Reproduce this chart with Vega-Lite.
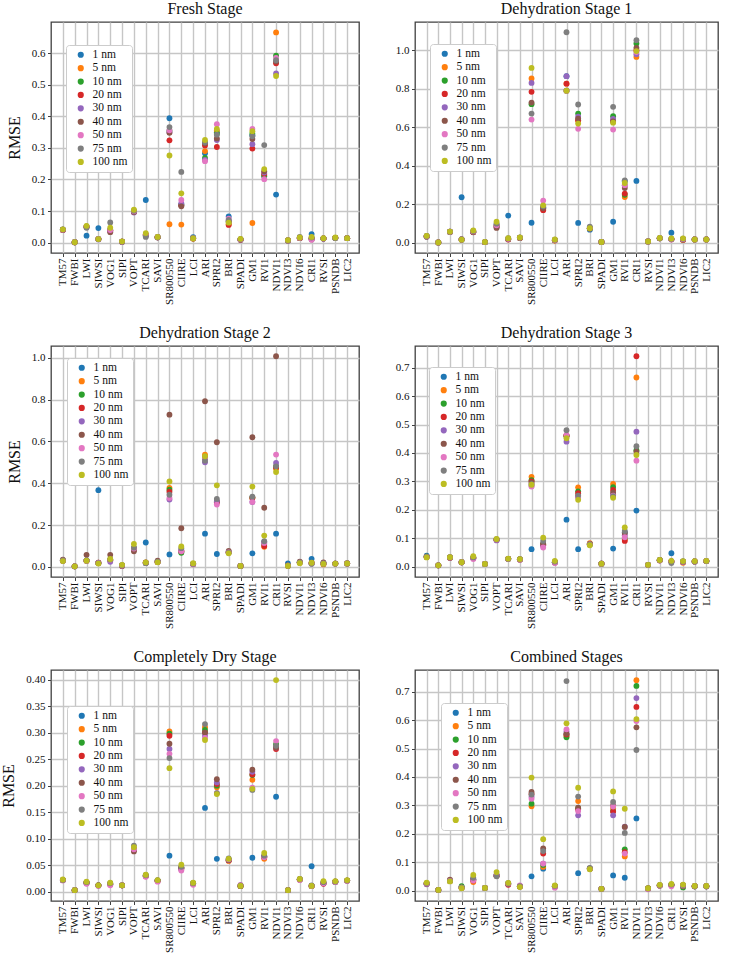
{
"$schema": "https://vega.github.io/schema/vega-lite/v6.json",
"padding": {"left": 0, "top": 0, "right": 4, "bottom": 0},
"config": {
 "font": "Liberation Serif, DejaVu Serif, serif",
 "view": {"stroke": "#404040", "strokeWidth": 1.3},
 "point": {"filled": true, "opacity": 1, "size": 34},
 "axis": {"grid": true, "gridColor": "#c6c6c6", "gridWidth": 1.4, "domain": false, "ticks": true, "tickColor": "#404040", "tickSize": 3.5, "labelFont": "Liberation Serif, DejaVu Serif, serif", "labelFontSize": 11, "labelColor": "#111", "titleFont": "Liberation Serif, DejaVu Serif, serif", "titleFontSize": 16, "titleFontWeight": "normal", "titleColor": "#111", "labelPadding": 2.5},
 "axisX": {"labelAngle": -90, "labelBaseline": "middle", "labelAlign": "right", "labelPadding": 1.5},
 "axisY": {"titlePadding": 9},
 "title": {"font": "Liberation Serif, DejaVu Serif, serif", "fontSize": 16, "fontWeight": "normal", "color": "#111", "offset": 5},
 "legend": {"orient": "none", "fillColor": "white", "strokeColor": "#cccccc", "cornerRadius": 3, "padding": 4, "symbolType": "circle", "symbolSize": 38, "symbolStrokeWidth": 0, "labelFont": "Liberation Serif, DejaVu Serif, serif", "labelFontSize": 11.5, "labelColor": "#111", "rowPadding": 0.4, "labelOffset": 6, "symbolOffset": 5}
},
"datasets": {
"fresh": [
{"c":"TM57","s":1,"v":0.041},{"c":"TM57","s":5,"v":0.040},{"c":"TM57","s":10,"v":0.041},{"c":"TM57","s":20,"v":0.040},{"c":"TM57","s":30,"v":0.041},{"c":"TM57","s":40,"v":0.040},{"c":"TM57","s":50,"v":0.041},{"c":"TM57","s":75,"v":0.042},{"c":"TM57","s":100,"v":0.042},
{"c":"FWBI","s":1,"v":0.001},{"c":"FWBI","s":5,"v":0.001},{"c":"FWBI","s":10,"v":0.001},{"c":"FWBI","s":20,"v":0.001},{"c":"FWBI","s":30,"v":0.001},{"c":"FWBI","s":40,"v":0.001},{"c":"FWBI","s":50,"v":0.001},{"c":"FWBI","s":75,"v":0.001},{"c":"FWBI","s":100,"v":0.001},
{"c":"LWI","s":1,"v":0.022},{"c":"LWI","s":5,"v":0.050},{"c":"LWI","s":10,"v":0.051},{"c":"LWI","s":20,"v":0.050},{"c":"LWI","s":30,"v":0.049},{"c":"LWI","s":40,"v":0.050},{"c":"LWI","s":50,"v":0.051},{"c":"LWI","s":75,"v":0.047},{"c":"LWI","s":100,"v":0.053},
{"c":"SIWSI","s":1,"v":0.046},{"c":"SIWSI","s":5,"v":0.011},{"c":"SIWSI","s":10,"v":0.012},{"c":"SIWSI","s":20,"v":0.011},{"c":"SIWSI","s":30,"v":0.010},{"c":"SIWSI","s":40,"v":0.011},{"c":"SIWSI","s":50,"v":0.012},{"c":"SIWSI","s":75,"v":0.011},{"c":"SIWSI","s":100,"v":0.011},
{"c":"VOG1","s":1,"v":0.040},{"c":"VOG1","s":5,"v":0.038},{"c":"VOG1","s":10,"v":0.040},{"c":"VOG1","s":20,"v":0.038},{"c":"VOG1","s":30,"v":0.036},{"c":"VOG1","s":40,"v":0.033},{"c":"VOG1","s":50,"v":0.040},{"c":"VOG1","s":75,"v":0.064},{"c":"VOG1","s":100,"v":0.047},
{"c":"SIPI","s":1,"v":0.003},{"c":"SIPI","s":5,"v":0.003},{"c":"SIPI","s":10,"v":0.003},{"c":"SIPI","s":20,"v":0.003},{"c":"SIPI","s":30,"v":0.003},{"c":"SIPI","s":40,"v":0.003},{"c":"SIPI","s":50,"v":0.003},{"c":"SIPI","s":75,"v":0.003},{"c":"SIPI","s":100,"v":0.004},
{"c":"VOPT","s":1,"v":0.100},{"c":"VOPT","s":5,"v":0.098},{"c":"VOPT","s":10,"v":0.098},{"c":"VOPT","s":20,"v":0.097},{"c":"VOPT","s":30,"v":0.095},{"c":"VOPT","s":40,"v":0.097},{"c":"VOPT","s":50,"v":0.099},{"c":"VOPT","s":75,"v":0.101},{"c":"VOPT","s":100,"v":0.104},
{"c":"TCARI","s":1,"v":0.135},{"c":"TCARI","s":5,"v":0.025},{"c":"TCARI","s":10,"v":0.022},{"c":"TCARI","s":20,"v":0.024},{"c":"TCARI","s":30,"v":0.022},{"c":"TCARI","s":40,"v":0.025},{"c":"TCARI","s":50,"v":0.026},{"c":"TCARI","s":75,"v":0.018},{"c":"TCARI","s":100,"v":0.030},
{"c":"SAVI","s":1,"v":0.017},{"c":"SAVI","s":5,"v":0.017},{"c":"SAVI","s":10,"v":0.017},{"c":"SAVI","s":20,"v":0.017},{"c":"SAVI","s":30,"v":0.017},{"c":"SAVI","s":40,"v":0.017},{"c":"SAVI","s":50,"v":0.017},{"c":"SAVI","s":75,"v":0.017},{"c":"SAVI","s":100,"v":0.018},
{"c":"SR800550","s":1,"v":0.394},{"c":"SR800550","s":5,"v":0.058},{"c":"SR800550","s":10,"v":0.355},{"c":"SR800550","s":20,"v":0.324},{"c":"SR800550","s":30,"v":0.350},{"c":"SR800550","s":40,"v":0.348},{"c":"SR800550","s":50,"v":0.356},{"c":"SR800550","s":75,"v":0.366},{"c":"SR800550","s":100,"v":0.276},
{"c":"CIIRE","s":1,"v":0.120},{"c":"CIIRE","s":5,"v":0.057},{"c":"CIIRE","s":10,"v":0.120},{"c":"CIIRE","s":20,"v":0.118},{"c":"CIIRE","s":30,"v":0.125},{"c":"CIIRE","s":40,"v":0.115},{"c":"CIIRE","s":50,"v":0.135},{"c":"CIIRE","s":75,"v":0.224},{"c":"CIIRE","s":100,"v":0.156},
{"c":"LCI","s":1,"v":0.017},{"c":"LCI","s":5,"v":0.013},{"c":"LCI","s":10,"v":0.014},{"c":"LCI","s":20,"v":0.013},{"c":"LCI","s":30,"v":0.014},{"c":"LCI","s":40,"v":0.013},{"c":"LCI","s":50,"v":0.014},{"c":"LCI","s":75,"v":0.015},{"c":"LCI","s":100,"v":0.013},
{"c":"ARI","s":1,"v":0.283},{"c":"ARI","s":5,"v":0.290},{"c":"ARI","s":10,"v":0.268},{"c":"ARI","s":20,"v":0.308},{"c":"ARI","s":30,"v":0.262},{"c":"ARI","s":40,"v":0.315},{"c":"ARI","s":50,"v":0.258},{"c":"ARI","s":75,"v":0.318},{"c":"ARI","s":100,"v":0.325},
{"c":"SPRI2","s":1,"v":0.350},{"c":"SPRI2","s":5,"v":0.355},{"c":"SPRI2","s":10,"v":0.345},{"c":"SPRI2","s":20,"v":0.303},{"c":"SPRI2","s":30,"v":0.325},{"c":"SPRI2","s":40,"v":0.330},{"c":"SPRI2","s":50,"v":0.375},{"c":"SPRI2","s":75,"v":0.342},{"c":"SPRI2","s":100,"v":0.360},
{"c":"BRI","s":1,"v":0.083},{"c":"BRI","s":5,"v":0.058},{"c":"BRI","s":10,"v":0.065},{"c":"BRI","s":20,"v":0.056},{"c":"BRI","s":30,"v":0.070},{"c":"BRI","s":40,"v":0.068},{"c":"BRI","s":50,"v":0.076},{"c":"BRI","s":75,"v":0.072},{"c":"BRI","s":100,"v":0.063},
{"c":"SPADI","s":1,"v":0.010},{"c":"SPADI","s":5,"v":0.010},{"c":"SPADI","s":10,"v":0.010},{"c":"SPADI","s":20,"v":0.010},{"c":"SPADI","s":30,"v":0.009},{"c":"SPADI","s":40,"v":0.008},{"c":"SPADI","s":50,"v":0.010},{"c":"SPADI","s":75,"v":0.011},{"c":"SPADI","s":100,"v":0.012},
{"c":"GM1","s":1,"v":0.340},{"c":"GM1","s":5,"v":0.062},{"c":"GM1","s":10,"v":0.345},{"c":"GM1","s":20,"v":0.298},{"c":"GM1","s":30,"v":0.312},{"c":"GM1","s":40,"v":0.328},{"c":"GM1","s":50,"v":0.360},{"c":"GM1","s":75,"v":0.337},{"c":"GM1","s":100,"v":0.353},
{"c":"RVI1","s":1,"v":0.210},{"c":"RVI1","s":5,"v":0.215},{"c":"RVI1","s":10,"v":0.212},{"c":"RVI1","s":20,"v":0.218},{"c":"RVI1","s":30,"v":0.222},{"c":"RVI1","s":40,"v":0.226},{"c":"RVI1","s":50,"v":0.201},{"c":"RVI1","s":75,"v":0.309},{"c":"RVI1","s":100,"v":0.233},
{"c":"NDVI1","s":1,"v":0.152},{"c":"NDVI1","s":5,"v":0.666},{"c":"NDVI1","s":10,"v":0.592},{"c":"NDVI1","s":20,"v":0.568},{"c":"NDVI1","s":30,"v":0.536},{"c":"NDVI1","s":40,"v":0.574},{"c":"NDVI1","s":50,"v":0.585},{"c":"NDVI1","s":75,"v":0.578},{"c":"NDVI1","s":100,"v":0.528},
{"c":"NDVI3","s":1,"v":0.007},{"c":"NDVI3","s":5,"v":0.007},{"c":"NDVI3","s":10,"v":0.007},{"c":"NDVI3","s":20,"v":0.007},{"c":"NDVI3","s":30,"v":0.007},{"c":"NDVI3","s":40,"v":0.007},{"c":"NDVI3","s":50,"v":0.007},{"c":"NDVI3","s":75,"v":0.007},{"c":"NDVI3","s":100,"v":0.008},
{"c":"NDVI6","s":1,"v":0.015},{"c":"NDVI6","s":5,"v":0.015},{"c":"NDVI6","s":10,"v":0.015},{"c":"NDVI6","s":20,"v":0.014},{"c":"NDVI6","s":30,"v":0.015},{"c":"NDVI6","s":40,"v":0.014},{"c":"NDVI6","s":50,"v":0.015},{"c":"NDVI6","s":75,"v":0.018},{"c":"NDVI6","s":100,"v":0.016},
{"c":"CRI1","s":1,"v":0.027},{"c":"CRI1","s":5,"v":0.013},{"c":"CRI1","s":10,"v":0.014},{"c":"CRI1","s":20,"v":0.012},{"c":"CRI1","s":30,"v":0.011},{"c":"CRI1","s":40,"v":0.010},{"c":"CRI1","s":50,"v":0.009},{"c":"CRI1","s":75,"v":0.016},{"c":"CRI1","s":100,"v":0.018},
{"c":"RVSI","s":1,"v":0.013},{"c":"RVSI","s":5,"v":0.013},{"c":"RVSI","s":10,"v":0.013},{"c":"RVSI","s":20,"v":0.013},{"c":"RVSI","s":30,"v":0.013},{"c":"RVSI","s":40,"v":0.013},{"c":"RVSI","s":50,"v":0.013},{"c":"RVSI","s":75,"v":0.013},{"c":"RVSI","s":100,"v":0.014},
{"c":"PSNDB","s":1,"v":0.015},{"c":"PSNDB","s":5,"v":0.015},{"c":"PSNDB","s":10,"v":0.015},{"c":"PSNDB","s":20,"v":0.015},{"c":"PSNDB","s":30,"v":0.015},{"c":"PSNDB","s":40,"v":0.015},{"c":"PSNDB","s":50,"v":0.015},{"c":"PSNDB","s":75,"v":0.014},{"c":"PSNDB","s":100,"v":0.016},
{"c":"LIC2","s":1,"v":0.014},{"c":"LIC2","s":5,"v":0.014},{"c":"LIC2","s":10,"v":0.014},{"c":"LIC2","s":20,"v":0.014},{"c":"LIC2","s":30,"v":0.014},{"c":"LIC2","s":40,"v":0.014},{"c":"LIC2","s":50,"v":0.014},{"c":"LIC2","s":75,"v":0.014},{"c":"LIC2","s":100,"v":0.014}
],
"d1": [
{"c":"TM57","s":1,"v":0.032},{"c":"TM57","s":5,"v":0.034},{"c":"TM57","s":10,"v":0.035},{"c":"TM57","s":20,"v":0.034},{"c":"TM57","s":30,"v":0.035},{"c":"TM57","s":40,"v":0.034},{"c":"TM57","s":50,"v":0.035},{"c":"TM57","s":75,"v":0.036},{"c":"TM57","s":100,"v":0.037},
{"c":"FWBI","s":1,"v":0.003},{"c":"FWBI","s":5,"v":0.003},{"c":"FWBI","s":10,"v":0.003},{"c":"FWBI","s":20,"v":0.003},{"c":"FWBI","s":30,"v":0.003},{"c":"FWBI","s":40,"v":0.003},{"c":"FWBI","s":50,"v":0.003},{"c":"FWBI","s":75,"v":0.003},{"c":"FWBI","s":100,"v":0.003},
{"c":"LWI","s":1,"v":0.057},{"c":"LWI","s":5,"v":0.058},{"c":"LWI","s":10,"v":0.058},{"c":"LWI","s":20,"v":0.057},{"c":"LWI","s":30,"v":0.058},{"c":"LWI","s":40,"v":0.057},{"c":"LWI","s":50,"v":0.058},{"c":"LWI","s":75,"v":0.058},{"c":"LWI","s":100,"v":0.059},
{"c":"SIWSI","s":1,"v":0.237},{"c":"SIWSI","s":5,"v":0.018},{"c":"SIWSI","s":10,"v":0.017},{"c":"SIWSI","s":20,"v":0.018},{"c":"SIWSI","s":30,"v":0.017},{"c":"SIWSI","s":40,"v":0.018},{"c":"SIWSI","s":50,"v":0.019},{"c":"SIWSI","s":75,"v":0.020},{"c":"SIWSI","s":100,"v":0.017},
{"c":"VOG1","s":1,"v":0.058},{"c":"VOG1","s":5,"v":0.056},{"c":"VOG1","s":10,"v":0.058},{"c":"VOG1","s":20,"v":0.057},{"c":"VOG1","s":30,"v":0.058},{"c":"VOG1","s":40,"v":0.055},{"c":"VOG1","s":50,"v":0.060},{"c":"VOG1","s":75,"v":0.062},{"c":"VOG1","s":100,"v":0.065},
{"c":"SIPI","s":1,"v":0.004},{"c":"SIPI","s":5,"v":0.004},{"c":"SIPI","s":10,"v":0.004},{"c":"SIPI","s":20,"v":0.004},{"c":"SIPI","s":30,"v":0.004},{"c":"SIPI","s":40,"v":0.004},{"c":"SIPI","s":50,"v":0.004},{"c":"SIPI","s":75,"v":0.005},{"c":"SIPI","s":100,"v":0.005},
{"c":"VOPT","s":1,"v":0.095},{"c":"VOPT","s":5,"v":0.090},{"c":"VOPT","s":10,"v":0.088},{"c":"VOPT","s":20,"v":0.085},{"c":"VOPT","s":30,"v":0.082},{"c":"VOPT","s":40,"v":0.078},{"c":"VOPT","s":50,"v":0.092},{"c":"VOPT","s":75,"v":0.100},{"c":"VOPT","s":100,"v":0.110},
{"c":"TCARI","s":1,"v":0.142},{"c":"TCARI","s":5,"v":0.020},{"c":"TCARI","s":10,"v":0.020},{"c":"TCARI","s":20,"v":0.018},{"c":"TCARI","s":30,"v":0.020},{"c":"TCARI","s":40,"v":0.019},{"c":"TCARI","s":50,"v":0.022},{"c":"TCARI","s":75,"v":0.025},{"c":"TCARI","s":100,"v":0.025},
{"c":"SAVI","s":1,"v":0.027},{"c":"SAVI","s":5,"v":0.026},{"c":"SAVI","s":10,"v":0.027},{"c":"SAVI","s":20,"v":0.026},{"c":"SAVI","s":30,"v":0.027},{"c":"SAVI","s":40,"v":0.026},{"c":"SAVI","s":50,"v":0.028},{"c":"SAVI","s":75,"v":0.028},{"c":"SAVI","s":100,"v":0.029},
{"c":"SR800550","s":1,"v":0.105},{"c":"SR800550","s":5,"v":0.853},{"c":"SR800550","s":10,"v":0.720},{"c":"SR800550","s":20,"v":0.784},{"c":"SR800550","s":30,"v":0.830},{"c":"SR800550","s":40,"v":0.728},{"c":"SR800550","s":50,"v":0.640},{"c":"SR800550","s":75,"v":0.671},{"c":"SR800550","s":100,"v":0.908},
{"c":"CIIRE","s":1,"v":0.185},{"c":"CIIRE","s":5,"v":0.175},{"c":"CIIRE","s":10,"v":0.180},{"c":"CIIRE","s":20,"v":0.170},{"c":"CIIRE","s":30,"v":0.185},{"c":"CIIRE","s":40,"v":0.180},{"c":"CIIRE","s":50,"v":0.220},{"c":"CIIRE","s":75,"v":0.190},{"c":"CIIRE","s":100,"v":0.195},
{"c":"LCI","s":1,"v":0.015},{"c":"LCI","s":5,"v":0.013},{"c":"LCI","s":10,"v":0.015},{"c":"LCI","s":20,"v":0.014},{"c":"LCI","s":30,"v":0.015},{"c":"LCI","s":40,"v":0.014},{"c":"LCI","s":50,"v":0.016},{"c":"LCI","s":75,"v":0.017},{"c":"LCI","s":100,"v":0.018},
{"c":"ARI","s":1,"v":0.865},{"c":"ARI","s":5,"v":0.826},{"c":"ARI","s":10,"v":0.790},{"c":"ARI","s":20,"v":0.826},{"c":"ARI","s":30,"v":0.865},{"c":"ARI","s":40,"v":0.790},{"c":"ARI","s":50,"v":0.790},{"c":"ARI","s":75,"v":1.093},{"c":"ARI","s":100,"v":0.790},
{"c":"SPRI2","s":1,"v":0.104},{"c":"SPRI2","s":5,"v":0.635},{"c":"SPRI2","s":10,"v":0.671},{"c":"SPRI2","s":20,"v":0.637},{"c":"SPRI2","s":30,"v":0.655},{"c":"SPRI2","s":40,"v":0.645},{"c":"SPRI2","s":50,"v":0.592},{"c":"SPRI2","s":75,"v":0.718},{"c":"SPRI2","s":100,"v":0.619},
{"c":"BRI","s":1,"v":0.069},{"c":"BRI","s":5,"v":0.075},{"c":"BRI","s":10,"v":0.077},{"c":"BRI","s":20,"v":0.076},{"c":"BRI","s":30,"v":0.078},{"c":"BRI","s":40,"v":0.077},{"c":"BRI","s":50,"v":0.080},{"c":"BRI","s":75,"v":0.085},{"c":"BRI","s":100,"v":0.077},
{"c":"SPADI","s":1,"v":0.005},{"c":"SPADI","s":5,"v":0.005},{"c":"SPADI","s":10,"v":0.005},{"c":"SPADI","s":20,"v":0.005},{"c":"SPADI","s":30,"v":0.005},{"c":"SPADI","s":40,"v":0.005},{"c":"SPADI","s":50,"v":0.005},{"c":"SPADI","s":75,"v":0.005},{"c":"SPADI","s":100,"v":0.005},
{"c":"GM1","s":1,"v":0.110},{"c":"GM1","s":5,"v":0.630},{"c":"GM1","s":10,"v":0.657},{"c":"GM1","s":20,"v":0.635},{"c":"GM1","s":30,"v":0.643},{"c":"GM1","s":40,"v":0.630},{"c":"GM1","s":50,"v":0.588},{"c":"GM1","s":75,"v":0.706},{"c":"GM1","s":100,"v":0.624},
{"c":"RVI1","s":1,"v":0.320},{"c":"RVI1","s":5,"v":0.238},{"c":"RVI1","s":10,"v":0.250},{"c":"RVI1","s":20,"v":0.256},{"c":"RVI1","s":30,"v":0.300},{"c":"RVI1","s":40,"v":0.285},{"c":"RVI1","s":50,"v":0.300},{"c":"RVI1","s":75,"v":0.325},{"c":"RVI1","s":100,"v":0.311},
{"c":"CRI1","s":1,"v":0.322},{"c":"CRI1","s":5,"v":0.965},{"c":"CRI1","s":10,"v":1.035},{"c":"CRI1","s":20,"v":1.000},{"c":"CRI1","s":30,"v":0.979},{"c":"CRI1","s":40,"v":1.012},{"c":"CRI1","s":50,"v":0.990},{"c":"CRI1","s":75,"v":1.052},{"c":"CRI1","s":100,"v":0.995},
{"c":"RVSI","s":1,"v":0.008},{"c":"RVSI","s":5,"v":0.008},{"c":"RVSI","s":10,"v":0.008},{"c":"RVSI","s":20,"v":0.008},{"c":"RVSI","s":30,"v":0.008},{"c":"RVSI","s":40,"v":0.008},{"c":"RVSI","s":50,"v":0.008},{"c":"RVSI","s":75,"v":0.008},{"c":"RVSI","s":100,"v":0.008},
{"c":"NDVI1","s":1,"v":0.024},{"c":"NDVI1","s":5,"v":0.024},{"c":"NDVI1","s":10,"v":0.025},{"c":"NDVI1","s":20,"v":0.024},{"c":"NDVI1","s":30,"v":0.025},{"c":"NDVI1","s":40,"v":0.024},{"c":"NDVI1","s":50,"v":0.025},{"c":"NDVI1","s":75,"v":0.025},{"c":"NDVI1","s":100,"v":0.026},
{"c":"NDVI3","s":1,"v":0.053},{"c":"NDVI3","s":5,"v":0.020},{"c":"NDVI3","s":10,"v":0.020},{"c":"NDVI3","s":20,"v":0.019},{"c":"NDVI3","s":30,"v":0.020},{"c":"NDVI3","s":40,"v":0.019},{"c":"NDVI3","s":50,"v":0.018},{"c":"NDVI3","s":75,"v":0.021},{"c":"NDVI3","s":100,"v":0.023},
{"c":"NDVI6","s":1,"v":0.020},{"c":"NDVI6","s":5,"v":0.015},{"c":"NDVI6","s":10,"v":0.018},{"c":"NDVI6","s":20,"v":0.017},{"c":"NDVI6","s":30,"v":0.019},{"c":"NDVI6","s":40,"v":0.018},{"c":"NDVI6","s":50,"v":0.019},{"c":"NDVI6","s":75,"v":0.022},{"c":"NDVI6","s":100,"v":0.024},
{"c":"PSNDB","s":1,"v":0.018},{"c":"PSNDB","s":5,"v":0.018},{"c":"PSNDB","s":10,"v":0.018},{"c":"PSNDB","s":20,"v":0.018},{"c":"PSNDB","s":30,"v":0.018},{"c":"PSNDB","s":40,"v":0.018},{"c":"PSNDB","s":50,"v":0.018},{"c":"PSNDB","s":75,"v":0.018},{"c":"PSNDB","s":100,"v":0.018},
{"c":"LIC2","s":1,"v":0.018},{"c":"LIC2","s":5,"v":0.018},{"c":"LIC2","s":10,"v":0.018},{"c":"LIC2","s":20,"v":0.018},{"c":"LIC2","s":30,"v":0.018},{"c":"LIC2","s":40,"v":0.018},{"c":"LIC2","s":50,"v":0.018},{"c":"LIC2","s":75,"v":0.018},{"c":"LIC2","s":100,"v":0.018}
],
"d2": [
{"c":"TM57","s":1,"v":0.030},{"c":"TM57","s":5,"v":0.030},{"c":"TM57","s":10,"v":0.031},{"c":"TM57","s":20,"v":0.030},{"c":"TM57","s":30,"v":0.031},{"c":"TM57","s":40,"v":0.035},{"c":"TM57","s":50,"v":0.030},{"c":"TM57","s":75,"v":0.031},{"c":"TM57","s":100,"v":0.028},
{"c":"FWBI","s":1,"v":0.003},{"c":"FWBI","s":5,"v":0.003},{"c":"FWBI","s":10,"v":0.003},{"c":"FWBI","s":20,"v":0.003},{"c":"FWBI","s":30,"v":0.003},{"c":"FWBI","s":40,"v":0.003},{"c":"FWBI","s":50,"v":0.003},{"c":"FWBI","s":75,"v":0.003},{"c":"FWBI","s":100,"v":0.003},
{"c":"LWI","s":1,"v":0.030},{"c":"LWI","s":5,"v":0.030},{"c":"LWI","s":10,"v":0.031},{"c":"LWI","s":20,"v":0.030},{"c":"LWI","s":30,"v":0.031},{"c":"LWI","s":40,"v":0.058},{"c":"LWI","s":50,"v":0.030},{"c":"LWI","s":75,"v":0.031},{"c":"LWI","s":100,"v":0.030},
{"c":"SIWSI","s":1,"v":0.367},{"c":"SIWSI","s":5,"v":0.019},{"c":"SIWSI","s":10,"v":0.019},{"c":"SIWSI","s":20,"v":0.020},{"c":"SIWSI","s":30,"v":0.019},{"c":"SIWSI","s":40,"v":0.020},{"c":"SIWSI","s":50,"v":0.019},{"c":"SIWSI","s":75,"v":0.018},{"c":"SIWSI","s":100,"v":0.016},
{"c":"VOG1","s":1,"v":0.035},{"c":"VOG1","s":5,"v":0.033},{"c":"VOG1","s":10,"v":0.034},{"c":"VOG1","s":20,"v":0.032},{"c":"VOG1","s":30,"v":0.025},{"c":"VOG1","s":40,"v":0.058},{"c":"VOG1","s":50,"v":0.033},{"c":"VOG1","s":75,"v":0.035},{"c":"VOG1","s":100,"v":0.038},
{"c":"SIPI","s":1,"v":0.007},{"c":"SIPI","s":5,"v":0.006},{"c":"SIPI","s":10,"v":0.007},{"c":"SIPI","s":20,"v":0.006},{"c":"SIPI","s":30,"v":0.006},{"c":"SIPI","s":40,"v":0.004},{"c":"SIPI","s":50,"v":0.007},{"c":"SIPI","s":75,"v":0.008},{"c":"SIPI","s":100,"v":0.010},
{"c":"VOPT","s":1,"v":0.090},{"c":"VOPT","s":5,"v":0.088},{"c":"VOPT","s":10,"v":0.087},{"c":"VOPT","s":20,"v":0.085},{"c":"VOPT","s":30,"v":0.085},{"c":"VOPT","s":40,"v":0.075},{"c":"VOPT","s":50,"v":0.088},{"c":"VOPT","s":75,"v":0.092},{"c":"VOPT","s":100,"v":0.110},
{"c":"TCARI","s":1,"v":0.117},{"c":"TCARI","s":5,"v":0.020},{"c":"TCARI","s":10,"v":0.019},{"c":"TCARI","s":20,"v":0.020},{"c":"TCARI","s":30,"v":0.019},{"c":"TCARI","s":40,"v":0.022},{"c":"TCARI","s":50,"v":0.020},{"c":"TCARI","s":75,"v":0.018},{"c":"TCARI","s":100,"v":0.022},
{"c":"SAVI","s":1,"v":0.025},{"c":"SAVI","s":5,"v":0.024},{"c":"SAVI","s":10,"v":0.025},{"c":"SAVI","s":20,"v":0.024},{"c":"SAVI","s":30,"v":0.025},{"c":"SAVI","s":40,"v":0.030},{"c":"SAVI","s":50,"v":0.024},{"c":"SAVI","s":75,"v":0.025},{"c":"SAVI","s":100,"v":0.022},
{"c":"SR800550","s":1,"v":0.060},{"c":"SR800550","s":5,"v":0.378},{"c":"SR800550","s":10,"v":0.369},{"c":"SR800550","s":20,"v":0.360},{"c":"SR800550","s":30,"v":0.322},{"c":"SR800550","s":40,"v":0.728},{"c":"SR800550","s":50,"v":0.330},{"c":"SR800550","s":75,"v":0.345},{"c":"SR800550","s":100,"v":0.409},
{"c":"CIIRE","s":1,"v":0.072},{"c":"CIIRE","s":5,"v":0.075},{"c":"CIIRE","s":10,"v":0.068},{"c":"CIIRE","s":20,"v":0.075},{"c":"CIIRE","s":30,"v":0.080},{"c":"CIIRE","s":40,"v":0.185},{"c":"CIIRE","s":50,"v":0.075},{"c":"CIIRE","s":75,"v":0.090},{"c":"CIIRE","s":100,"v":0.098},
{"c":"LCI","s":1,"v":0.015},{"c":"LCI","s":5,"v":0.014},{"c":"LCI","s":10,"v":0.014},{"c":"LCI","s":20,"v":0.013},{"c":"LCI","s":30,"v":0.014},{"c":"LCI","s":40,"v":0.015},{"c":"LCI","s":50,"v":0.014},{"c":"LCI","s":75,"v":0.015},{"c":"LCI","s":100,"v":0.018},
{"c":"ARI","s":1,"v":0.159},{"c":"ARI","s":5,"v":0.537},{"c":"ARI","s":10,"v":0.520},{"c":"ARI","s":20,"v":0.522},{"c":"ARI","s":30,"v":0.500},{"c":"ARI","s":40,"v":0.792},{"c":"ARI","s":50,"v":0.520},{"c":"ARI","s":75,"v":0.508},{"c":"ARI","s":100,"v":0.529},
{"c":"SPRI2","s":1,"v":0.062},{"c":"SPRI2","s":5,"v":0.310},{"c":"SPRI2","s":10,"v":0.312},{"c":"SPRI2","s":20,"v":0.308},{"c":"SPRI2","s":30,"v":0.315},{"c":"SPRI2","s":40,"v":0.596},{"c":"SPRI2","s":50,"v":0.298},{"c":"SPRI2","s":75,"v":0.325},{"c":"SPRI2","s":100,"v":0.390},
{"c":"BRI","s":1,"v":0.070},{"c":"BRI","s":5,"v":0.070},{"c":"BRI","s":10,"v":0.071},{"c":"BRI","s":20,"v":0.070},{"c":"BRI","s":30,"v":0.070},{"c":"BRI","s":40,"v":0.077},{"c":"BRI","s":50,"v":0.070},{"c":"BRI","s":75,"v":0.068},{"c":"BRI","s":100,"v":0.065},
{"c":"SPADI","s":1,"v":0.005},{"c":"SPADI","s":5,"v":0.005},{"c":"SPADI","s":10,"v":0.005},{"c":"SPADI","s":20,"v":0.005},{"c":"SPADI","s":30,"v":0.005},{"c":"SPADI","s":40,"v":0.005},{"c":"SPADI","s":50,"v":0.005},{"c":"SPADI","s":75,"v":0.005},{"c":"SPADI","s":100,"v":0.005},
{"c":"GM1","s":1,"v":0.065},{"c":"GM1","s":5,"v":0.330},{"c":"GM1","s":10,"v":0.332},{"c":"GM1","s":20,"v":0.330},{"c":"GM1","s":30,"v":0.310},{"c":"GM1","s":40,"v":0.620},{"c":"GM1","s":50,"v":0.311},{"c":"GM1","s":75,"v":0.336},{"c":"GM1","s":100,"v":0.384},
{"c":"RVI1","s":1,"v":0.120},{"c":"RVI1","s":5,"v":0.096},{"c":"RVI1","s":10,"v":0.110},{"c":"RVI1","s":20,"v":0.100},{"c":"RVI1","s":30,"v":0.117},{"c":"RVI1","s":40,"v":0.283},{"c":"RVI1","s":50,"v":0.115},{"c":"RVI1","s":75,"v":0.123},{"c":"RVI1","s":100,"v":0.150},
{"c":"CRI1","s":1,"v":0.159},{"c":"CRI1","s":5,"v":0.470},{"c":"CRI1","s":10,"v":0.480},{"c":"CRI1","s":20,"v":0.475},{"c":"CRI1","s":30,"v":0.497},{"c":"CRI1","s":40,"v":1.007},{"c":"CRI1","s":50,"v":0.537},{"c":"CRI1","s":75,"v":0.481},{"c":"CRI1","s":100,"v":0.454},
{"c":"RVSI","s":1,"v":0.017},{"c":"RVSI","s":5,"v":0.006},{"c":"RVSI","s":10,"v":0.006},{"c":"RVSI","s":20,"v":0.006},{"c":"RVSI","s":30,"v":0.006},{"c":"RVSI","s":40,"v":0.006},{"c":"RVSI","s":50,"v":0.006},{"c":"RVSI","s":75,"v":0.006},{"c":"RVSI","s":100,"v":0.005},
{"c":"NDVI1","s":1,"v":0.022},{"c":"NDVI1","s":5,"v":0.021},{"c":"NDVI1","s":10,"v":0.022},{"c":"NDVI1","s":20,"v":0.021},{"c":"NDVI1","s":30,"v":0.022},{"c":"NDVI1","s":40,"v":0.025},{"c":"NDVI1","s":50,"v":0.021},{"c":"NDVI1","s":75,"v":0.022},{"c":"NDVI1","s":100,"v":0.018},
{"c":"NDVI3","s":1,"v":0.039},{"c":"NDVI3","s":5,"v":0.018},{"c":"NDVI3","s":10,"v":0.017},{"c":"NDVI3","s":20,"v":0.018},{"c":"NDVI3","s":30,"v":0.017},{"c":"NDVI3","s":40,"v":0.020},{"c":"NDVI3","s":50,"v":0.016},{"c":"NDVI3","s":75,"v":0.015},{"c":"NDVI3","s":100,"v":0.020},
{"c":"NDVI6","s":1,"v":0.018},{"c":"NDVI6","s":5,"v":0.012},{"c":"NDVI6","s":10,"v":0.015},{"c":"NDVI6","s":20,"v":0.016},{"c":"NDVI6","s":30,"v":0.017},{"c":"NDVI6","s":40,"v":0.022},{"c":"NDVI6","s":50,"v":0.016},{"c":"NDVI6","s":75,"v":0.017},{"c":"NDVI6","s":100,"v":0.015},
{"c":"PSNDB","s":1,"v":0.016},{"c":"PSNDB","s":5,"v":0.016},{"c":"PSNDB","s":10,"v":0.016},{"c":"PSNDB","s":20,"v":0.016},{"c":"PSNDB","s":30,"v":0.016},{"c":"PSNDB","s":40,"v":0.016},{"c":"PSNDB","s":50,"v":0.016},{"c":"PSNDB","s":75,"v":0.016},{"c":"PSNDB","s":100,"v":0.016},
{"c":"LIC2","s":1,"v":0.017},{"c":"LIC2","s":5,"v":0.017},{"c":"LIC2","s":10,"v":0.017},{"c":"LIC2","s":20,"v":0.017},{"c":"LIC2","s":30,"v":0.017},{"c":"LIC2","s":40,"v":0.017},{"c":"LIC2","s":50,"v":0.017},{"c":"LIC2","s":75,"v":0.017},{"c":"LIC2","s":100,"v":0.017}
],
"d3": [
{"c":"TM57","s":1,"v":0.038},{"c":"TM57","s":5,"v":0.035},{"c":"TM57","s":10,"v":0.035},{"c":"TM57","s":20,"v":0.034},{"c":"TM57","s":30,"v":0.034},{"c":"TM57","s":40,"v":0.033},{"c":"TM57","s":50,"v":0.034},{"c":"TM57","s":75,"v":0.035},{"c":"TM57","s":100,"v":0.032},
{"c":"FWBI","s":1,"v":0.004},{"c":"FWBI","s":5,"v":0.004},{"c":"FWBI","s":10,"v":0.004},{"c":"FWBI","s":20,"v":0.004},{"c":"FWBI","s":30,"v":0.004},{"c":"FWBI","s":40,"v":0.004},{"c":"FWBI","s":50,"v":0.004},{"c":"FWBI","s":75,"v":0.004},{"c":"FWBI","s":100,"v":0.004},
{"c":"LWI","s":1,"v":0.032},{"c":"LWI","s":5,"v":0.032},{"c":"LWI","s":10,"v":0.032},{"c":"LWI","s":20,"v":0.031},{"c":"LWI","s":30,"v":0.032},{"c":"LWI","s":40,"v":0.031},{"c":"LWI","s":50,"v":0.032},{"c":"LWI","s":75,"v":0.033},{"c":"LWI","s":100,"v":0.033},
{"c":"SIWSI","s":1,"v":0.015},{"c":"SIWSI","s":5,"v":0.015},{"c":"SIWSI","s":10,"v":0.015},{"c":"SIWSI","s":20,"v":0.015},{"c":"SIWSI","s":30,"v":0.015},{"c":"SIWSI","s":40,"v":0.015},{"c":"SIWSI","s":50,"v":0.015},{"c":"SIWSI","s":75,"v":0.015},{"c":"SIWSI","s":100,"v":0.015},
{"c":"VOG1","s":1,"v":0.030},{"c":"VOG1","s":5,"v":0.030},{"c":"VOG1","s":10,"v":0.031},{"c":"VOG1","s":20,"v":0.030},{"c":"VOG1","s":30,"v":0.030},{"c":"VOG1","s":40,"v":0.030},{"c":"VOG1","s":50,"v":0.026},{"c":"VOG1","s":75,"v":0.032},{"c":"VOG1","s":100,"v":0.036},
{"c":"SIPI","s":1,"v":0.009},{"c":"SIPI","s":5,"v":0.009},{"c":"SIPI","s":10,"v":0.009},{"c":"SIPI","s":20,"v":0.009},{"c":"SIPI","s":30,"v":0.009},{"c":"SIPI","s":40,"v":0.009},{"c":"SIPI","s":50,"v":0.009},{"c":"SIPI","s":75,"v":0.009},{"c":"SIPI","s":100,"v":0.009},
{"c":"VOPT","s":1,"v":0.095},{"c":"VOPT","s":5,"v":0.095},{"c":"VOPT","s":10,"v":0.095},{"c":"VOPT","s":20,"v":0.094},{"c":"VOPT","s":30,"v":0.092},{"c":"VOPT","s":40,"v":0.095},{"c":"VOPT","s":50,"v":0.095},{"c":"VOPT","s":75,"v":0.096},{"c":"VOPT","s":100,"v":0.097},
{"c":"TCARI","s":1,"v":0.027},{"c":"TCARI","s":5,"v":0.027},{"c":"TCARI","s":10,"v":0.027},{"c":"TCARI","s":20,"v":0.027},{"c":"TCARI","s":30,"v":0.027},{"c":"TCARI","s":40,"v":0.027},{"c":"TCARI","s":50,"v":0.027},{"c":"TCARI","s":75,"v":0.027},{"c":"TCARI","s":100,"v":0.028},
{"c":"SAVI","s":1,"v":0.025},{"c":"SAVI","s":5,"v":0.025},{"c":"SAVI","s":10,"v":0.025},{"c":"SAVI","s":20,"v":0.025},{"c":"SAVI","s":30,"v":0.025},{"c":"SAVI","s":40,"v":0.025},{"c":"SAVI","s":50,"v":0.024},{"c":"SAVI","s":75,"v":0.026},{"c":"SAVI","s":100,"v":0.026},
{"c":"SR800550","s":1,"v":0.061},{"c":"SR800550","s":5,"v":0.316},{"c":"SR800550","s":10,"v":0.304},{"c":"SR800550","s":20,"v":0.300},{"c":"SR800550","s":30,"v":0.284},{"c":"SR800550","s":40,"v":0.295},{"c":"SR800550","s":50,"v":0.282},{"c":"SR800550","s":75,"v":0.290},{"c":"SR800550","s":100,"v":0.288},
{"c":"CIIRE","s":1,"v":0.080},{"c":"CIIRE","s":5,"v":0.078},{"c":"CIIRE","s":10,"v":0.077},{"c":"CIIRE","s":20,"v":0.075},{"c":"CIIRE","s":30,"v":0.073},{"c":"CIIRE","s":40,"v":0.080},{"c":"CIIRE","s":50,"v":0.067},{"c":"CIIRE","s":75,"v":0.090},{"c":"CIIRE","s":100,"v":0.102},
{"c":"LCI","s":1,"v":0.015},{"c":"LCI","s":5,"v":0.014},{"c":"LCI","s":10,"v":0.015},{"c":"LCI","s":20,"v":0.014},{"c":"LCI","s":30,"v":0.015},{"c":"LCI","s":40,"v":0.014},{"c":"LCI","s":50,"v":0.012},{"c":"LCI","s":75,"v":0.017},{"c":"LCI","s":100,"v":0.020},
{"c":"ARI","s":1,"v":0.165},{"c":"ARI","s":5,"v":0.462},{"c":"ARI","s":10,"v":0.460},{"c":"ARI","s":20,"v":0.462},{"c":"ARI","s":30,"v":0.440},{"c":"ARI","s":40,"v":0.460},{"c":"ARI","s":50,"v":0.464},{"c":"ARI","s":75,"v":0.480},{"c":"ARI","s":100,"v":0.452},
{"c":"SPRI2","s":1,"v":0.061},{"c":"SPRI2","s":5,"v":0.279},{"c":"SPRI2","s":10,"v":0.265},{"c":"SPRI2","s":20,"v":0.258},{"c":"SPRI2","s":30,"v":0.245},{"c":"SPRI2","s":40,"v":0.248},{"c":"SPRI2","s":50,"v":0.245},{"c":"SPRI2","s":75,"v":0.250},{"c":"SPRI2","s":100,"v":0.235},
{"c":"BRI","s":1,"v":0.078},{"c":"BRI","s":5,"v":0.082},{"c":"BRI","s":10,"v":0.080},{"c":"BRI","s":20,"v":0.079},{"c":"BRI","s":30,"v":0.078},{"c":"BRI","s":40,"v":0.079},{"c":"BRI","s":50,"v":0.078},{"c":"BRI","s":75,"v":0.077},{"c":"BRI","s":100,"v":0.075},
{"c":"SPADI","s":1,"v":0.010},{"c":"SPADI","s":5,"v":0.010},{"c":"SPADI","s":10,"v":0.010},{"c":"SPADI","s":20,"v":0.010},{"c":"SPADI","s":30,"v":0.010},{"c":"SPADI","s":40,"v":0.010},{"c":"SPADI","s":50,"v":0.010},{"c":"SPADI","s":75,"v":0.010},{"c":"SPADI","s":100,"v":0.010},
{"c":"GM1","s":1,"v":0.063},{"c":"GM1","s":5,"v":0.291},{"c":"GM1","s":10,"v":0.280},{"c":"GM1","s":20,"v":0.270},{"c":"GM1","s":30,"v":0.255},{"c":"GM1","s":40,"v":0.260},{"c":"GM1","s":50,"v":0.250},{"c":"GM1","s":75,"v":0.248},{"c":"GM1","s":100,"v":0.242},
{"c":"RVI1","s":1,"v":0.120},{"c":"RVI1","s":5,"v":0.095},{"c":"RVI1","s":10,"v":0.100},{"c":"RVI1","s":20,"v":0.090},{"c":"RVI1","s":30,"v":0.110},{"c":"RVI1","s":40,"v":0.118},{"c":"RVI1","s":50,"v":0.103},{"c":"RVI1","s":75,"v":0.125},{"c":"RVI1","s":100,"v":0.138},
{"c":"CRI1","s":1,"v":0.197},{"c":"CRI1","s":5,"v":0.666},{"c":"CRI1","s":10,"v":0.410},{"c":"CRI1","s":20,"v":0.741},{"c":"CRI1","s":30,"v":0.475},{"c":"CRI1","s":40,"v":0.405},{"c":"CRI1","s":50,"v":0.373},{"c":"CRI1","s":75,"v":0.424},{"c":"CRI1","s":100,"v":0.393},
{"c":"RVSI","s":1,"v":0.006},{"c":"RVSI","s":5,"v":0.006},{"c":"RVSI","s":10,"v":0.006},{"c":"RVSI","s":20,"v":0.006},{"c":"RVSI","s":30,"v":0.006},{"c":"RVSI","s":40,"v":0.006},{"c":"RVSI","s":50,"v":0.006},{"c":"RVSI","s":75,"v":0.006},{"c":"RVSI","s":100,"v":0.006},
{"c":"NDVI1","s":1,"v":0.022},{"c":"NDVI1","s":5,"v":0.022},{"c":"NDVI1","s":10,"v":0.022},{"c":"NDVI1","s":20,"v":0.022},{"c":"NDVI1","s":30,"v":0.022},{"c":"NDVI1","s":40,"v":0.022},{"c":"NDVI1","s":50,"v":0.021},{"c":"NDVI1","s":75,"v":0.023},{"c":"NDVI1","s":100,"v":0.023},
{"c":"NDVI3","s":1,"v":0.047},{"c":"NDVI3","s":5,"v":0.018},{"c":"NDVI3","s":10,"v":0.018},{"c":"NDVI3","s":20,"v":0.018},{"c":"NDVI3","s":30,"v":0.018},{"c":"NDVI3","s":40,"v":0.018},{"c":"NDVI3","s":50,"v":0.017},{"c":"NDVI3","s":75,"v":0.012},{"c":"NDVI3","s":100,"v":0.020},
{"c":"NDVI6","s":1,"v":0.018},{"c":"NDVI6","s":5,"v":0.013},{"c":"NDVI6","s":10,"v":0.016},{"c":"NDVI6","s":20,"v":0.016},{"c":"NDVI6","s":30,"v":0.017},{"c":"NDVI6","s":40,"v":0.017},{"c":"NDVI6","s":50,"v":0.017},{"c":"NDVI6","s":75,"v":0.018},{"c":"NDVI6","s":100,"v":0.019},
{"c":"PSNDB","s":1,"v":0.018},{"c":"PSNDB","s":5,"v":0.018},{"c":"PSNDB","s":10,"v":0.018},{"c":"PSNDB","s":20,"v":0.018},{"c":"PSNDB","s":30,"v":0.018},{"c":"PSNDB","s":40,"v":0.018},{"c":"PSNDB","s":50,"v":0.018},{"c":"PSNDB","s":75,"v":0.018},{"c":"PSNDB","s":100,"v":0.019},
{"c":"LIC2","s":1,"v":0.019},{"c":"LIC2","s":5,"v":0.019},{"c":"LIC2","s":10,"v":0.019},{"c":"LIC2","s":20,"v":0.019},{"c":"LIC2","s":30,"v":0.019},{"c":"LIC2","s":40,"v":0.019},{"c":"LIC2","s":50,"v":0.019},{"c":"LIC2","s":75,"v":0.019},{"c":"LIC2","s":100,"v":0.020}
],
"dry": [
{"c":"TM57","s":1,"v":0.022},{"c":"TM57","s":5,"v":0.022},{"c":"TM57","s":10,"v":0.022},{"c":"TM57","s":20,"v":0.022},{"c":"TM57","s":30,"v":0.022},{"c":"TM57","s":40,"v":0.022},{"c":"TM57","s":50,"v":0.021},{"c":"TM57","s":75,"v":0.022},{"c":"TM57","s":100,"v":0.023},
{"c":"FWBI","s":1,"v":0.003},{"c":"FWBI","s":5,"v":0.003},{"c":"FWBI","s":10,"v":0.003},{"c":"FWBI","s":20,"v":0.003},{"c":"FWBI","s":30,"v":0.003},{"c":"FWBI","s":40,"v":0.003},{"c":"FWBI","s":50,"v":0.003},{"c":"FWBI","s":75,"v":0.003},{"c":"FWBI","s":100,"v":0.003},
{"c":"LWI","s":1,"v":0.017},{"c":"LWI","s":5,"v":0.017},{"c":"LWI","s":10,"v":0.017},{"c":"LWI","s":20,"v":0.017},{"c":"LWI","s":30,"v":0.016},{"c":"LWI","s":40,"v":0.017},{"c":"LWI","s":50,"v":0.015},{"c":"LWI","s":75,"v":0.018},{"c":"LWI","s":100,"v":0.019},
{"c":"SIWSI","s":1,"v":0.012},{"c":"SIWSI","s":5,"v":0.012},{"c":"SIWSI","s":10,"v":0.012},{"c":"SIWSI","s":20,"v":0.012},{"c":"SIWSI","s":30,"v":0.012},{"c":"SIWSI","s":40,"v":0.012},{"c":"SIWSI","s":50,"v":0.011},{"c":"SIWSI","s":75,"v":0.012},{"c":"SIWSI","s":100,"v":0.012},
{"c":"VOG1","s":1,"v":0.015},{"c":"VOG1","s":5,"v":0.015},{"c":"VOG1","s":10,"v":0.015},{"c":"VOG1","s":20,"v":0.014},{"c":"VOG1","s":30,"v":0.014},{"c":"VOG1","s":40,"v":0.014},{"c":"VOG1","s":50,"v":0.012},{"c":"VOG1","s":75,"v":0.016},{"c":"VOG1","s":100,"v":0.017},
{"c":"SIPI","s":1,"v":0.012},{"c":"SIPI","s":5,"v":0.012},{"c":"SIPI","s":10,"v":0.012},{"c":"SIPI","s":20,"v":0.012},{"c":"SIPI","s":30,"v":0.012},{"c":"SIPI","s":40,"v":0.012},{"c":"SIPI","s":50,"v":0.012},{"c":"SIPI","s":75,"v":0.012},{"c":"SIPI","s":100,"v":0.012},
{"c":"VOPT","s":1,"v":0.080},{"c":"VOPT","s":5,"v":0.079},{"c":"VOPT","s":10,"v":0.080},{"c":"VOPT","s":20,"v":0.079},{"c":"VOPT","s":30,"v":0.079},{"c":"VOPT","s":40,"v":0.076},{"c":"VOPT","s":50,"v":0.080},{"c":"VOPT","s":75,"v":0.087},{"c":"VOPT","s":100,"v":0.084},
{"c":"TCARI","s":1,"v":0.031},{"c":"TCARI","s":5,"v":0.030},{"c":"TCARI","s":10,"v":0.030},{"c":"TCARI","s":20,"v":0.029},{"c":"TCARI","s":30,"v":0.030},{"c":"TCARI","s":40,"v":0.030},{"c":"TCARI","s":50,"v":0.028},{"c":"TCARI","s":75,"v":0.031},{"c":"TCARI","s":100,"v":0.032},
{"c":"SAVI","s":1,"v":0.021},{"c":"SAVI","s":5,"v":0.021},{"c":"SAVI","s":10,"v":0.021},{"c":"SAVI","s":20,"v":0.020},{"c":"SAVI","s":30,"v":0.021},{"c":"SAVI","s":40,"v":0.021},{"c":"SAVI","s":50,"v":0.019},{"c":"SAVI","s":75,"v":0.022},{"c":"SAVI","s":100,"v":0.022},
{"c":"SR800550","s":1,"v":0.068},{"c":"SR800550","s":5,"v":0.302},{"c":"SR800550","s":10,"v":0.298},{"c":"SR800550","s":20,"v":0.294},{"c":"SR800550","s":30,"v":0.269},{"c":"SR800550","s":40,"v":0.279},{"c":"SR800550","s":50,"v":0.260},{"c":"SR800550","s":75,"v":0.252},{"c":"SR800550","s":100,"v":0.233},
{"c":"CIIRE","s":1,"v":0.045},{"c":"CIIRE","s":5,"v":0.045},{"c":"CIIRE","s":10,"v":0.045},{"c":"CIIRE","s":20,"v":0.044},{"c":"CIIRE","s":30,"v":0.042},{"c":"CIIRE","s":40,"v":0.045},{"c":"CIIRE","s":50,"v":0.040},{"c":"CIIRE","s":75,"v":0.047},{"c":"CIIRE","s":100,"v":0.051},
{"c":"LCI","s":1,"v":0.016},{"c":"LCI","s":5,"v":0.015},{"c":"LCI","s":10,"v":0.015},{"c":"LCI","s":20,"v":0.015},{"c":"LCI","s":30,"v":0.015},{"c":"LCI","s":40,"v":0.015},{"c":"LCI","s":50,"v":0.013},{"c":"LCI","s":75,"v":0.016},{"c":"LCI","s":100,"v":0.017},
{"c":"ARI","s":1,"v":0.158},{"c":"ARI","s":5,"v":0.310},{"c":"ARI","s":10,"v":0.305},{"c":"ARI","s":20,"v":0.300},{"c":"ARI","s":30,"v":0.294},{"c":"ARI","s":40,"v":0.300},{"c":"ARI","s":50,"v":0.290},{"c":"ARI","s":75,"v":0.316},{"c":"ARI","s":100,"v":0.286},
{"c":"SPRI2","s":1,"v":0.062},{"c":"SPRI2","s":5,"v":0.197},{"c":"SPRI2","s":10,"v":0.200},{"c":"SPRI2","s":20,"v":0.203},{"c":"SPRI2","s":30,"v":0.206},{"c":"SPRI2","s":40,"v":0.212},{"c":"SPRI2","s":50,"v":0.186},{"c":"SPRI2","s":75,"v":0.186},{"c":"SPRI2","s":100,"v":0.184},
{"c":"BRI","s":1,"v":0.060},{"c":"BRI","s":5,"v":0.058},{"c":"BRI","s":10,"v":0.060},{"c":"BRI","s":20,"v":0.059},{"c":"BRI","s":30,"v":0.060},{"c":"BRI","s":40,"v":0.060},{"c":"BRI","s":50,"v":0.061},{"c":"BRI","s":75,"v":0.063},{"c":"BRI","s":100,"v":0.062},
{"c":"SPADI","s":1,"v":0.011},{"c":"SPADI","s":5,"v":0.011},{"c":"SPADI","s":10,"v":0.011},{"c":"SPADI","s":20,"v":0.011},{"c":"SPADI","s":30,"v":0.011},{"c":"SPADI","s":40,"v":0.011},{"c":"SPADI","s":50,"v":0.013},{"c":"SPADI","s":75,"v":0.012},{"c":"SPADI","s":100,"v":0.011},
{"c":"GM1","s":1,"v":0.064},{"c":"GM1","s":5,"v":0.211},{"c":"GM1","s":10,"v":0.220},{"c":"GM1","s":20,"v":0.221},{"c":"GM1","s":30,"v":0.226},{"c":"GM1","s":40,"v":0.230},{"c":"GM1","s":50,"v":0.196},{"c":"GM1","s":75,"v":0.192},{"c":"GM1","s":100,"v":0.194},
{"c":"RVI1","s":1,"v":0.066},{"c":"RVI1","s":5,"v":0.062},{"c":"RVI1","s":10,"v":0.066},{"c":"RVI1","s":20,"v":0.065},{"c":"RVI1","s":30,"v":0.066},{"c":"RVI1","s":40,"v":0.067},{"c":"RVI1","s":50,"v":0.065},{"c":"RVI1","s":75,"v":0.068},{"c":"RVI1","s":100,"v":0.073},
{"c":"NDVI1","s":1,"v":0.179},{"c":"NDVI1","s":5,"v":0.272},{"c":"NDVI1","s":10,"v":0.278},{"c":"NDVI1","s":20,"v":0.269},{"c":"NDVI1","s":30,"v":0.272},{"c":"NDVI1","s":40,"v":0.272},{"c":"NDVI1","s":50,"v":0.284},{"c":"NDVI1","s":75,"v":0.275},{"c":"NDVI1","s":100,"v":0.399},
{"c":"NDVI3","s":1,"v":0.003},{"c":"NDVI3","s":5,"v":0.003},{"c":"NDVI3","s":10,"v":0.003},{"c":"NDVI3","s":20,"v":0.003},{"c":"NDVI3","s":30,"v":0.003},{"c":"NDVI3","s":40,"v":0.003},{"c":"NDVI3","s":50,"v":0.003},{"c":"NDVI3","s":75,"v":0.003},{"c":"NDVI3","s":100,"v":0.003},
{"c":"NDVI6","s":1,"v":0.023},{"c":"NDVI6","s":5,"v":0.023},{"c":"NDVI6","s":10,"v":0.023},{"c":"NDVI6","s":20,"v":0.023},{"c":"NDVI6","s":30,"v":0.023},{"c":"NDVI6","s":40,"v":0.023},{"c":"NDVI6","s":50,"v":0.022},{"c":"NDVI6","s":75,"v":0.024},{"c":"NDVI6","s":100,"v":0.024},
{"c":"CRI1","s":1,"v":0.048},{"c":"CRI1","s":5,"v":0.011},{"c":"CRI1","s":10,"v":0.011},{"c":"CRI1","s":20,"v":0.011},{"c":"CRI1","s":30,"v":0.011},{"c":"CRI1","s":40,"v":0.011},{"c":"CRI1","s":50,"v":0.011},{"c":"CRI1","s":75,"v":0.012},{"c":"CRI1","s":100,"v":0.011},
{"c":"RVSI","s":1,"v":0.017},{"c":"RVSI","s":5,"v":0.016},{"c":"RVSI","s":10,"v":0.016},{"c":"RVSI","s":20,"v":0.015},{"c":"RVSI","s":30,"v":0.016},{"c":"RVSI","s":40,"v":0.016},{"c":"RVSI","s":50,"v":0.016},{"c":"RVSI","s":75,"v":0.018},{"c":"RVSI","s":100,"v":0.020},
{"c":"PSNDB","s":1,"v":0.019},{"c":"PSNDB","s":5,"v":0.019},{"c":"PSNDB","s":10,"v":0.019},{"c":"PSNDB","s":20,"v":0.019},{"c":"PSNDB","s":30,"v":0.019},{"c":"PSNDB","s":40,"v":0.019},{"c":"PSNDB","s":50,"v":0.018},{"c":"PSNDB","s":75,"v":0.019},{"c":"PSNDB","s":100,"v":0.020},
{"c":"LIC2","s":1,"v":0.021},{"c":"LIC2","s":5,"v":0.021},{"c":"LIC2","s":10,"v":0.021},{"c":"LIC2","s":20,"v":0.021},{"c":"LIC2","s":30,"v":0.021},{"c":"LIC2","s":40,"v":0.021},{"c":"LIC2","s":50,"v":0.020},{"c":"LIC2","s":75,"v":0.021},{"c":"LIC2","s":100,"v":0.022}
],
"comb": [
{"c":"TM57","s":1,"v":0.024},{"c":"TM57","s":5,"v":0.025},{"c":"TM57","s":10,"v":0.025},{"c":"TM57","s":20,"v":0.024},{"c":"TM57","s":30,"v":0.022},{"c":"TM57","s":40,"v":0.024},{"c":"TM57","s":50,"v":0.025},{"c":"TM57","s":75,"v":0.026},{"c":"TM57","s":100,"v":0.028},
{"c":"FWBI","s":1,"v":0.002},{"c":"FWBI","s":5,"v":0.002},{"c":"FWBI","s":10,"v":0.002},{"c":"FWBI","s":20,"v":0.002},{"c":"FWBI","s":30,"v":0.002},{"c":"FWBI","s":40,"v":0.002},{"c":"FWBI","s":50,"v":0.002},{"c":"FWBI","s":75,"v":0.002},{"c":"FWBI","s":100,"v":0.002},
{"c":"LWI","s":1,"v":0.034},{"c":"LWI","s":5,"v":0.033},{"c":"LWI","s":10,"v":0.034},{"c":"LWI","s":20,"v":0.034},{"c":"LWI","s":30,"v":0.035},{"c":"LWI","s":40,"v":0.038},{"c":"LWI","s":50,"v":0.034},{"c":"LWI","s":75,"v":0.033},{"c":"LWI","s":100,"v":0.032},
{"c":"SIWSI","s":1,"v":0.012},{"c":"SIWSI","s":5,"v":0.010},{"c":"SIWSI","s":10,"v":0.015},{"c":"SIWSI","s":20,"v":0.010},{"c":"SIWSI","s":30,"v":0.010},{"c":"SIWSI","s":40,"v":0.010},{"c":"SIWSI","s":50,"v":0.010},{"c":"SIWSI","s":75,"v":0.010},{"c":"SIWSI","s":100,"v":0.008},
{"c":"VOG1","s":1,"v":0.040},{"c":"VOG1","s":5,"v":0.030},{"c":"VOG1","s":10,"v":0.038},{"c":"VOG1","s":20,"v":0.035},{"c":"VOG1","s":30,"v":0.040},{"c":"VOG1","s":40,"v":0.038},{"c":"VOG1","s":50,"v":0.035},{"c":"VOG1","s":75,"v":0.045},{"c":"VOG1","s":100,"v":0.055},
{"c":"SIPI","s":1,"v":0.009},{"c":"SIPI","s":5,"v":0.009},{"c":"SIPI","s":10,"v":0.009},{"c":"SIPI","s":20,"v":0.009},{"c":"SIPI","s":30,"v":0.009},{"c":"SIPI","s":40,"v":0.009},{"c":"SIPI","s":50,"v":0.009},{"c":"SIPI","s":75,"v":0.009},{"c":"SIPI","s":100,"v":0.009},
{"c":"VOPT","s":1,"v":0.055},{"c":"VOPT","s":5,"v":0.052},{"c":"VOPT","s":10,"v":0.053},{"c":"VOPT","s":20,"v":0.052},{"c":"VOPT","s":30,"v":0.053},{"c":"VOPT","s":40,"v":0.052},{"c":"VOPT","s":50,"v":0.055},{"c":"VOPT","s":75,"v":0.050},{"c":"VOPT","s":100,"v":0.065},
{"c":"TCARI","s":1,"v":0.025},{"c":"TCARI","s":5,"v":0.023},{"c":"TCARI","s":10,"v":0.024},{"c":"TCARI","s":20,"v":0.020},{"c":"TCARI","s":30,"v":0.024},{"c":"TCARI","s":40,"v":0.023},{"c":"TCARI","s":50,"v":0.025},{"c":"TCARI","s":75,"v":0.026},{"c":"TCARI","s":100,"v":0.027},
{"c":"SAVI","s":1,"v":0.015},{"c":"SAVI","s":5,"v":0.014},{"c":"SAVI","s":10,"v":0.015},{"c":"SAVI","s":20,"v":0.014},{"c":"SAVI","s":30,"v":0.015},{"c":"SAVI","s":40,"v":0.014},{"c":"SAVI","s":50,"v":0.018},{"c":"SAVI","s":75,"v":0.015},{"c":"SAVI","s":100,"v":0.012},
{"c":"SR800550","s":1,"v":0.050},{"c":"SR800550","s":5,"v":0.297},{"c":"SR800550","s":10,"v":0.306},{"c":"SR800550","s":20,"v":0.340},{"c":"SR800550","s":30,"v":0.330},{"c":"SR800550","s":40,"v":0.347},{"c":"SR800550","s":50,"v":0.323},{"c":"SR800550","s":75,"v":0.338},{"c":"SR800550","s":100,"v":0.398},
{"c":"CIIRE","s":1,"v":0.077},{"c":"CIIRE","s":5,"v":0.083},{"c":"CIIRE","s":10,"v":0.090},{"c":"CIIRE","s":20,"v":0.130},{"c":"CIIRE","s":30,"v":0.095},{"c":"CIIRE","s":40,"v":0.148},{"c":"CIIRE","s":50,"v":0.095},{"c":"CIIRE","s":75,"v":0.139},{"c":"CIIRE","s":100,"v":0.181},
{"c":"LCI","s":1,"v":0.015},{"c":"LCI","s":5,"v":0.014},{"c":"LCI","s":10,"v":0.015},{"c":"LCI","s":20,"v":0.014},{"c":"LCI","s":30,"v":0.013},{"c":"LCI","s":40,"v":0.014},{"c":"LCI","s":50,"v":0.010},{"c":"LCI","s":75,"v":0.016},{"c":"LCI","s":100,"v":0.018},
{"c":"ARI","s":1,"v":0.550},{"c":"ARI","s":5,"v":0.545},{"c":"ARI","s":10,"v":0.540},{"c":"ARI","s":20,"v":0.550},{"c":"ARI","s":30,"v":0.560},{"c":"ARI","s":40,"v":0.553},{"c":"ARI","s":50,"v":0.568},{"c":"ARI","s":75,"v":0.738},{"c":"ARI","s":100,"v":0.589},
{"c":"SPRI2","s":1,"v":0.061},{"c":"SPRI2","s":5,"v":0.315},{"c":"SPRI2","s":10,"v":0.290},{"c":"SPRI2","s":20,"v":0.285},{"c":"SPRI2","s":30,"v":0.265},{"c":"SPRI2","s":40,"v":0.292},{"c":"SPRI2","s":50,"v":0.280},{"c":"SPRI2","s":75,"v":0.331},{"c":"SPRI2","s":100,"v":0.362},
{"c":"BRI","s":1,"v":0.077},{"c":"BRI","s":5,"v":0.077},{"c":"BRI","s":10,"v":0.077},{"c":"BRI","s":20,"v":0.077},{"c":"BRI","s":30,"v":0.077},{"c":"BRI","s":40,"v":0.078},{"c":"BRI","s":50,"v":0.077},{"c":"BRI","s":75,"v":0.080},{"c":"BRI","s":100,"v":0.075},
{"c":"SPADI","s":1,"v":0.006},{"c":"SPADI","s":5,"v":0.006},{"c":"SPADI","s":10,"v":0.006},{"c":"SPADI","s":20,"v":0.006},{"c":"SPADI","s":30,"v":0.006},{"c":"SPADI","s":40,"v":0.006},{"c":"SPADI","s":50,"v":0.006},{"c":"SPADI","s":75,"v":0.006},{"c":"SPADI","s":100,"v":0.006},
{"c":"GM1","s":1,"v":0.053},{"c":"GM1","s":5,"v":0.290},{"c":"GM1","s":10,"v":0.280},{"c":"GM1","s":20,"v":0.278},{"c":"GM1","s":30,"v":0.265},{"c":"GM1","s":40,"v":0.300},{"c":"GM1","s":50,"v":0.296},{"c":"GM1","s":75,"v":0.312},{"c":"GM1","s":100,"v":0.349},
{"c":"RVI1","s":1,"v":0.045},{"c":"RVI1","s":5,"v":0.120},{"c":"RVI1","s":10,"v":0.145},{"c":"RVI1","s":20,"v":0.135},{"c":"RVI1","s":30,"v":0.225},{"c":"RVI1","s":40,"v":0.224},{"c":"RVI1","s":50,"v":0.130},{"c":"RVI1","s":75,"v":0.203},{"c":"RVI1","s":100,"v":0.288},
{"c":"NDVI1","s":1,"v":0.254},{"c":"NDVI1","s":5,"v":0.741},{"c":"NDVI1","s":10,"v":0.721},{"c":"NDVI1","s":20,"v":0.647},{"c":"NDVI1","s":30,"v":0.678},{"c":"NDVI1","s":40,"v":0.575},{"c":"NDVI1","s":50,"v":0.597},{"c":"NDVI1","s":75,"v":0.495},{"c":"NDVI1","s":100,"v":0.604},
{"c":"NDVI3","s":1,"v":0.007},{"c":"NDVI3","s":5,"v":0.007},{"c":"NDVI3","s":10,"v":0.007},{"c":"NDVI3","s":20,"v":0.007},{"c":"NDVI3","s":30,"v":0.007},{"c":"NDVI3","s":40,"v":0.007},{"c":"NDVI3","s":50,"v":0.004},{"c":"NDVI3","s":75,"v":0.007},{"c":"NDVI3","s":100,"v":0.008},
{"c":"NDVI6","s":1,"v":0.018},{"c":"NDVI6","s":5,"v":0.018},{"c":"NDVI6","s":10,"v":0.018},{"c":"NDVI6","s":20,"v":0.018},{"c":"NDVI6","s":30,"v":0.018},{"c":"NDVI6","s":40,"v":0.018},{"c":"NDVI6","s":50,"v":0.018},{"c":"NDVI6","s":75,"v":0.019},{"c":"NDVI6","s":100,"v":0.020},
{"c":"CRI1","s":1,"v":0.020},{"c":"CRI1","s":5,"v":0.019},{"c":"CRI1","s":10,"v":0.020},{"c":"CRI1","s":20,"v":0.019},{"c":"CRI1","s":30,"v":0.020},{"c":"CRI1","s":40,"v":0.019},{"c":"CRI1","s":50,"v":0.015},{"c":"CRI1","s":75,"v":0.021},{"c":"CRI1","s":100,"v":0.023},
{"c":"RVSI","s":1,"v":0.018},{"c":"RVSI","s":5,"v":0.017},{"c":"RVSI","s":10,"v":0.011},{"c":"RVSI","s":20,"v":0.017},{"c":"RVSI","s":30,"v":0.018},{"c":"RVSI","s":40,"v":0.017},{"c":"RVSI","s":50,"v":0.018},{"c":"RVSI","s":75,"v":0.019},{"c":"RVSI","s":100,"v":0.021},
{"c":"PSNDB","s":1,"v":0.015},{"c":"PSNDB","s":5,"v":0.015},{"c":"PSNDB","s":10,"v":0.015},{"c":"PSNDB","s":20,"v":0.015},{"c":"PSNDB","s":30,"v":0.015},{"c":"PSNDB","s":40,"v":0.015},{"c":"PSNDB","s":50,"v":0.015},{"c":"PSNDB","s":75,"v":0.015},{"c":"PSNDB","s":100,"v":0.016},
{"c":"LIC2","s":1,"v":0.015},{"c":"LIC2","s":5,"v":0.015},{"c":"LIC2","s":10,"v":0.015},{"c":"LIC2","s":20,"v":0.015},{"c":"LIC2","s":30,"v":0.015},{"c":"LIC2","s":40,"v":0.015},{"c":"LIC2","s":50,"v":0.015},{"c":"LIC2","s":75,"v":0.015},{"c":"LIC2","s":100,"v":0.016}
]
},
"resolve": {"scale": {"color": "independent"}, "legend": {"color": "independent"}},
"spacing": 18,
"vconcat": [
{"hconcat": [
 {"title": "Fresh Stage", "width": 308, "height": 231, "data": {"name": "fresh"}, "mark": "point",
  "encoding": {
   "x": {"field": "c", "type": "nominal", "sort": null, "scale": {"type": "point", "padding": 1.2}, "axis": {"title": null}},
   "y": {"field": "v", "type": "quantitative", "scale": {"domain": [-0.033, 0.699], "nice": false, "zero": false}, "axis": {"title": "RMSE", "values": [0, 0.1, 0.2, 0.3, 0.4, 0.5, 0.6], "format": ".1f"}},
   "color": {"field": "s", "type": "ordinal", "scale": {"domain": [1, 5, 10, 20, 30, 40, 50, 75, 100], "range": ["#1f77b4", "#ff7f0e", "#2ca02c", "#d62728", "#9467bd", "#8c564b", "#e377c2", "#7f7f7f", "#bcbd22"]}, "legend": {"title": null, "legendX": 15, "legendY": 23, "labelExpr": "datum.label + ' nm'"}}
  }},
 {"title": "Dehydration Stage 1", "width": 303, "height": 231, "data": {"name": "d1"}, "mark": "point",
  "encoding": {
   "x": {"field": "c", "type": "nominal", "sort": null, "scale": {"type": "point", "padding": 1.2}, "axis": {"title": null}},
   "y": {"field": "v", "type": "quantitative", "scale": {"domain": [-0.052, 1.146], "nice": false, "zero": false}, "axis": {"title": null, "values": [0, 0.2, 0.4, 0.6, 0.8, 1.0], "format": ".1f"}},
   "color": {"field": "s", "type": "ordinal", "scale": {"domain": [1, 5, 10, 20, 30, 40, 50, 75, 100], "range": ["#1f77b4", "#ff7f0e", "#2ca02c", "#d62728", "#9467bd", "#8c564b", "#e377c2", "#7f7f7f", "#bcbd22"]}, "legend": {"title": null, "legendX": 15, "legendY": 22, "labelExpr": "datum.label + ' nm'"}}
  }}
 ], "spacing": 34, "resolve": {"scale": {"color": "independent"}, "legend": {"color": "independent"}}},
{"hconcat": [
 {"title": "Dehydration Stage 2", "width": 308, "height": 231, "data": {"name": "d2"}, "mark": "point",
  "encoding": {
   "x": {"field": "c", "type": "nominal", "sort": null, "scale": {"type": "point", "padding": 1.2}, "axis": {"title": null}},
   "y": {"field": "v", "type": "quantitative", "scale": {"domain": [-0.048, 1.056], "nice": false, "zero": false}, "axis": {"title": "RMSE", "values": [0, 0.2, 0.4, 0.6, 0.8, 1.0], "format": ".1f"}},
   "color": {"field": "s", "type": "ordinal", "scale": {"domain": [1, 5, 10, 20, 30, 40, 50, 75, 100], "range": ["#1f77b4", "#ff7f0e", "#2ca02c", "#d62728", "#9467bd", "#8c564b", "#e377c2", "#7f7f7f", "#bcbd22"]}, "legend": {"title": null, "legendX": 16, "legendY": 12, "labelExpr": "datum.label + ' nm'"}}
  }},
 {"title": "Dehydration Stage 3", "width": 303, "height": 231, "data": {"name": "d3"}, "mark": "point",
  "encoding": {
   "x": {"field": "c", "type": "nominal", "sort": null, "scale": {"type": "point", "padding": 1.2}, "axis": {"title": null}},
   "y": {"field": "v", "type": "quantitative", "scale": {"domain": [-0.037, 0.777], "nice": false, "zero": false}, "axis": {"title": null, "values": [0, 0.1, 0.2, 0.3, 0.4, 0.5, 0.6, 0.7], "format": ".1f"}},
   "color": {"field": "s", "type": "ordinal", "scale": {"domain": [1, 5, 10, 20, 30, 40, 50, 75, 100], "range": ["#1f77b4", "#ff7f0e", "#2ca02c", "#d62728", "#9467bd", "#8c564b", "#e377c2", "#7f7f7f", "#bcbd22"]}, "legend": {"title": null, "legendX": 14, "legendY": 21, "labelExpr": "datum.label + ' nm'"}}
  }}
 ], "spacing": 34, "resolve": {"scale": {"color": "independent"}, "legend": {"color": "independent"}}},
{"hconcat": [
 {"title": "Completely Dry Stage", "width": 308, "height": 231, "data": {"name": "dry"}, "mark": "point",
  "encoding": {
   "x": {"field": "c", "type": "nominal", "sort": null, "scale": {"type": "point", "padding": 1.2}, "axis": {"title": null}},
   "y": {"field": "v", "type": "quantitative", "scale": {"domain": [-0.0175, 0.418], "nice": false, "zero": false}, "axis": {"title": "RMSE", "values": [0, 0.05, 0.1, 0.15, 0.2, 0.25, 0.3, 0.35, 0.4], "format": ".2f"}},
   "color": {"field": "s", "type": "ordinal", "scale": {"domain": [1, 5, 10, 20, 30, 40, 50, 75, 100], "range": ["#1f77b4", "#ff7f0e", "#2ca02c", "#d62728", "#9467bd", "#8c564b", "#e377c2", "#7f7f7f", "#bcbd22"]}, "legend": {"title": null, "legendX": 16, "legendY": 36, "labelExpr": "datum.label + ' nm'"}}
  }},
 {"title": "Combined Stages", "width": 303, "height": 231, "data": {"name": "comb"}, "mark": "point",
  "encoding": {
   "x": {"field": "c", "type": "nominal", "sort": null, "scale": {"type": "point", "padding": 1.2}, "axis": {"title": null}},
   "y": {"field": "v", "type": "quantitative", "scale": {"domain": [-0.037, 0.777], "nice": false, "zero": false}, "axis": {"title": null, "values": [0, 0.1, 0.2, 0.3, 0.4, 0.5, 0.6, 0.7], "format": ".1f"}},
   "color": {"field": "s", "type": "ordinal", "scale": {"domain": [1, 5, 10, 20, 30, 40, 50, 75, 100], "range": ["#1f77b4", "#ff7f0e", "#2ca02c", "#d62728", "#9467bd", "#8c564b", "#e377c2", "#7f7f7f", "#bcbd22"]}, "legend": {"title": null, "legendX": 26, "legendY": 33, "labelExpr": "datum.label + ' nm'"}}
  }}
 ], "spacing": 34, "resolve": {"scale": {"color": "independent"}, "legend": {"color": "independent"}}}
]
}
